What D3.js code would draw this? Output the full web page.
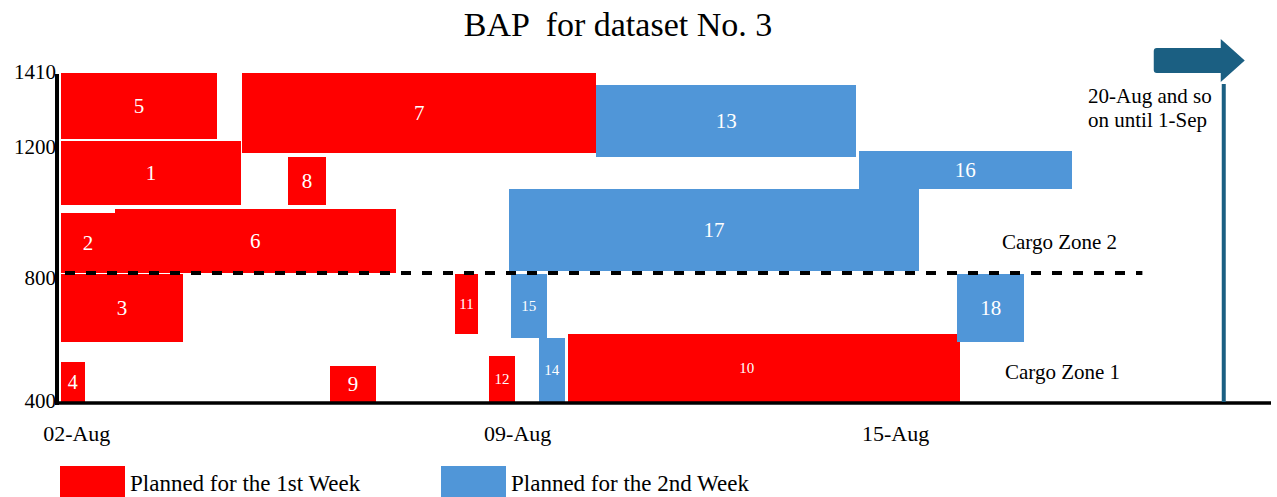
<!DOCTYPE html>
<html>
<head>
<meta charset="utf-8">
<script src="https://cdn.jsdelivr.net/npm/d3@7"></script>
<style>
  html, body { margin: 0; padding: 0; background: #fff; }
  svg { display: block; font-family: "Liberation Serif", "Times New Roman", serif; }
</style>
</head>
<body>
<svg id="chart" width="1277" height="497"></svg>
<script>
// ── Data: berth allocation plan (time in hours from 02-Aug 00:00, berth in m) ──
const vesselIds  = [1, 2, 3, 4, 5, 6, 7, 8, 9, 10, 11, 12, 13, 14, 15, 16, 17, 18];
const startHour  = [0, 0, 0, 0, 0, 20.5, 69, 86.5, 102.5, 193, 150, 163, 204, 182, 171.5, 304, 170.5, 341.5];
const endHour    = [68.5, 20.5, 46.5, 9, 59.5, 127.5, 204, 101, 120, 342.5, 159, 173, 303, 192, 185, 385, 327, 367];
const berthFrom  = [1005, 797, 584, 400, 1207, 797, 1165, 1006, 400, 400, 610, 400, 1153, 400, 597, 1054, 803, 585];
const berthTo    = [1202, 980, 793, 523, 1410, 992, 1410, 1152, 510, 609, 793, 541, 1373, 596, 793, 1170, 1054, 793];
const plannedWeek = [1, 1, 1, 1, 1, 1, 1, 1, 1, 1, 1, 1, 2, 2, 2, 2, 2, 2];

const yTicks      = [400, 800, 1200, 1410];
const dateLabels  = ["02-Aug", "09-Aug", "15-Aug"];
const dateDays    = [0, 7, 13];
const zoneBoundary = 796;
const cutoffHour   = 443;
const weekNames   = ["Planned for the 1st Week", "Planned for the 2nd Week"];

// ── Style ──
const colors = { 1: "#ff0000", 2: "#5096d8" };
const arrowColor = "#1b5f82";
const smallLabels = [10, 11, 12, 14, 15];

const svg = d3.select("#chart");

const x = d3.scaleLinear().domain([0, 461]).range([61, 1271]);
const y = d3.scaleLinear().domain([400, 1410]).range([402, 73]);

// Title
svg.append("text")
  .attr("x", 618).attr("y", 36)
  .attr("text-anchor", "middle")
  .style("font-size", "34px")
  .style("white-space", "pre")
  .text("BAP  for dataset No. 3");

// ── Vessel rectangles ──
const vessels = vesselIds.map((id, i) => ({
  id, s: startHour[i], e: endHour[i], b0: berthFrom[i], b1: berthTo[i], week: plannedWeek[i]
}));

svg.append("g")
  .attr("shape-rendering", "crispEdges")
  .selectAll("rect")
  .data(vessels)
  .join("rect")
  .attr("x", d => x(d.s))
  .attr("y", d => y(d.b1))
  .attr("width", d => x(d.e) - x(d.s))
  .attr("height", d => y(d.b0) - y(d.b1))
  .attr("fill", d => colors[d.week]);

svg.append("g").selectAll("text")
  .data(vessels)
  .join("text")
  .attr("x", d => (x(d.s) + x(d.e)) / 2 - (d.id === 10 ? 17 : 0))
  .attr("y", d => (y(d.b0) + y(d.b1)) / 2)
  .attr("dy", "0.35em")
  .attr("text-anchor", "middle")
  .attr("fill", "#fff")
  .style("font-size", d => smallLabels.includes(d.id) ? "15px" : (d.id === 4 ? "20px" : "21px"))
  .text(d => d.id);

// Zone boundary (dashed)
svg.append("line")
  .attr("x1", x(0) + 4).attr("x2", x(412))
  .attr("y1", y(zoneBoundary)).attr("y2", y(zoneBoundary))
  .attr("stroke", "#000").attr("stroke-width", 4)
  .attr("stroke-dasharray", "10,11");

// ── Axes (drawn as plain lines + text, like the original) ──
svg.append("line")
  .attr("x1", 57).attr("x2", 57)
  .attr("y1", y(1410) + 1).attr("y2", 405)
  .attr("stroke", "#000").attr("stroke-width", 4);
svg.append("line")
  .attr("x1", 55).attr("x2", x(461))
  .attr("y1", 403).attr("y2", 403)
  .attr("stroke", "#000").attr("stroke-width", 3.5);

svg.append("g").selectAll("text")
  .data(yTicks)
  .join("text")
  .attr("x", 56)
  .attr("y", d => y(d))
  .attr("dy", d => (d === 400 || d === 1410) ? "0.3em" : "0.62em")
  .attr("text-anchor", "end")
  .style("font-size", "21px")
  .text(d => d);

svg.append("g").selectAll("text")
  .data(dateLabels)
  .join("text")
  .attr("x", (d, i) => x((dateDays[i] + 0.25) * 24))
  .attr("y", 441)
  .attr("text-anchor", "middle")
  .style("font-size", "22px")
  .text(d => d);

// Zone labels
svg.append("text").attr("x", 1002).attr("y", 249)
  .style("font-size", "21px").text("Cargo Zone 2");
svg.append("text").attr("x", 1005).attr("y", 379)
  .style("font-size", "21px").text("Cargo Zone 1");

// ── Cutoff marker and arrow ──
svg.append("line")
  .attr("x1", x(cutoffHour)).attr("x2", x(cutoffHour))
  .attr("y1", 84).attr("y2", 402)
  .attr("stroke", arrowColor).attr("stroke-width", 4);

const ax = x(cutoffHour);
svg.append("path")
  .attr("d", `M${ax - 70},51 Q${ax - 70},48 ${ax - 67},48 L${ax - 3},48 L${ax - 3},39
              L${ax + 21},60.5 L${ax - 3},82 L${ax - 3},73 L${ax - 67},73 Q${ax - 70},73 ${ax - 70},70 Z`)
  .attr("fill", arrowColor);

svg.append("text").attr("x", 1088).attr("y", 103)
  .style("font-size", "21px").text("20-Aug and so");
svg.append("text").attr("x", 1088).attr("y", 127)
  .style("font-size", "21px").text("on until 1-Sep");

// ── Legend ──
const legend = svg.append("g").selectAll("g")
  .data(weekNames)
  .join("g")
  .attr("transform", (d, i) => `translate(${i === 0 ? 60 : 441},466)`);
legend.append("rect")
  .attr("width", 65).attr("height", 31)
  .attr("fill", (d, i) => colors[i + 1]);
legend.append("text")
  .attr("x", 70).attr("y", 25)
  .style("font-size", "23px")
  .text(d => d);
</script>
</body>
</html>
